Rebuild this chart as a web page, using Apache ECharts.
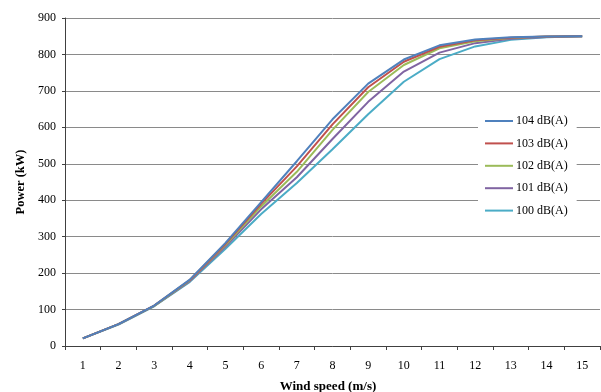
<!DOCTYPE html>
<html>
<head>
<meta charset="utf-8">
<script src="https://cdn.jsdelivr.net/npm/echarts@6/dist/echarts.min.js"></script>
<style>
html,body{margin:0;padding:0;background:#fff;}
#chart{width:601px;height:392px;}
</style>
</head>
<body>
<div id="chart"></div>
<script>
var windSpeeds = ['1','2','3','4','5','6','7','8','9','10','11','12','13','14','15'];
var seriesNames = ['104 dB(A)','103 dB(A)','102 dB(A)','101 dB(A)','100 dB(A)'];
var p104 = [21, 60, 111, 182, 283, 395, 507, 622, 720, 786, 825, 841, 847, 849, 850];
var p103 = [21, 60, 111, 181, 280, 390, 493, 608, 710, 780, 821, 839, 846, 849, 850];
var p102 = [21, 60, 110, 180, 277, 383, 478, 593, 697, 771, 817, 836, 845, 849, 850];
var p101 = [21, 60, 110, 178, 273, 375, 463, 568, 670, 753, 805, 831, 843, 848, 850];
var p100 = [21, 59, 109, 176, 267, 362, 447, 540, 636, 725, 787, 822, 840, 847, 850];
var colors = ['#4f81bd','#c0504d','#9bbb59','#8064a2','#4bacc6'];
var allData = [p104, p103, p102, p101, p100];

var font = 'Liberation Serif';
var chart = echarts.init(document.getElementById('chart'), null, {renderer:'canvas'});
chart.setOption({
  animation: false,
  backgroundColor: '#fff',
  color: colors,
  grid: {left: 65, right: 1, top: 18, bottom: 46, containLabel: false, outerBoundsMode: 'none'},
  legend: {
    orient: 'vertical',
    left: 478,
    top: 109,
    width: 99,
    padding: [6, 9, 6, 7],
    backgroundColor: '#fff',
    itemWidth: 28,
    itemHeight: 14,
    itemGap: 10.4,
    icon: 'path://M0,6L28,6L28,8L0,8Z',
    textStyle: {fontFamily: font, fontSize: 12, color: '#000', padding: [0,0,0,-2]},
    data: seriesNames
  },
  xAxis: {
    type: 'category',
    data: windSpeeds,
    boundaryGap: true,
    name: 'Wind speed (m/s)',
    nameLocation: 'middle',
    nameGap: 34,
    nameTextStyle: {fontFamily: font, fontSize: 13, fontWeight: 'bold', color: '#000', padding: [0, 9, 0, 0]},
    axisLine: {lineStyle: {color: '#404040', width: 1}},
    axisTick: {show: true, length: 4, alignWithLabel: false, lineStyle: {color: '#404040'}},
    axisLabel: {fontFamily: font, fontSize: 12, color: '#000', margin: 14},
    splitLine: {show: false}
  },
  yAxis: {
    type: 'value',
    min: 0, max: 900, interval: 100,
    name: 'Power (kW)',
    nameLocation: 'middle',
    nameGap: 37,
    nameTextStyle: {fontFamily: font, fontSize: 12.5, fontWeight: 'bold', color: '#000'},
    axisLine: {show: true, lineStyle: {color: '#404040', width: 1}},
    axisTick: {show: true, length: 3, inside: false, lineStyle: {color: '#404040'}},
    axisLabel: {fontFamily: font, fontSize: 12, color: '#000', margin: 9},
    splitLine: {show: true, lineStyle: {color: '#8a8a8a', width: 1}}
  },
  series: seriesNames.map(function(n, i){
    return {
      name: n,
      type: 'line',
      data: allData[i],
      symbol: 'none',
      smooth: false,
      lineStyle: {width: 2, color: colors[i]},
      itemStyle: {color: colors[i]},
      z: 10 - i
    };
  })
});
</script>
</body>
</html>
